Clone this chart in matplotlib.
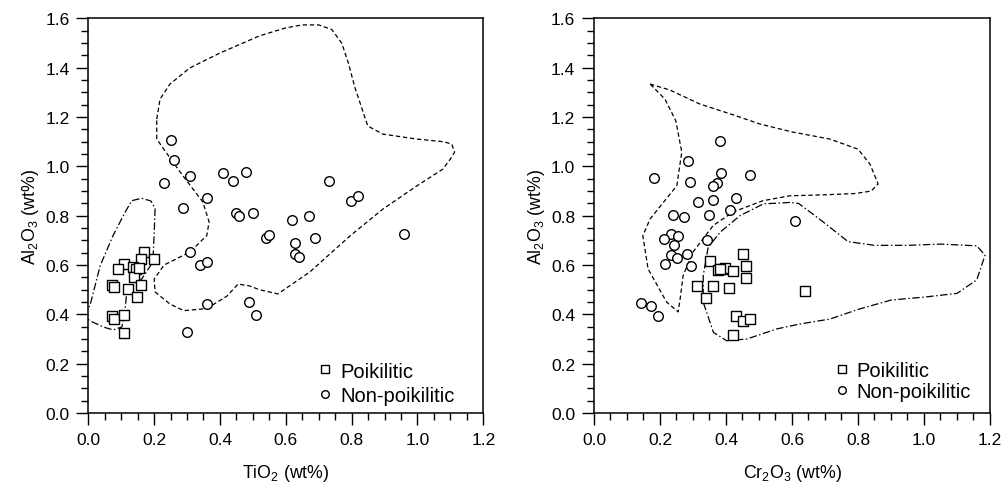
import numpy as np
import matplotlib.pyplot as plt
from matplotlib.lines import Line2D

plt.rcParams["font.family"] = ["Liberation Sans", "DejaVu Sans"]
plt.rcParams["mathtext.default"] = "regular"

# left panel: TiO2 vs Al2O3
ti_poik = [0.169, 0.200, 0.159, 0.109, 0.089, 0.135, 0.145, 0.139, 0.160, 0.071,
           0.079, 0.120, 0.149, 0.071, 0.079, 0.109, 0.109, 0.155]
al_poik_l = [0.652, 0.625, 0.625, 0.604, 0.584, 0.591, 0.585, 0.550, 0.519, 0.519,
             0.512, 0.503, 0.472, 0.392, 0.381, 0.399, 0.323, 0.590]
ti_nonp = [0.250, 0.260, 0.309, 0.230, 0.410, 0.440, 0.480, 0.360, 0.289, 0.449,
           0.459, 0.501, 0.730, 0.799, 0.818, 0.619, 0.670, 0.539, 0.549, 0.629,
           0.689, 0.629, 0.639, 0.959, 0.309, 0.339, 0.360, 0.360, 0.489, 0.509,
           0.299]
al_nonp_l = [1.108, 1.027, 0.962, 0.931, 0.972, 0.941, 0.979, 0.871, 0.830, 0.811,
             0.799, 0.810, 0.941, 0.860, 0.880, 0.781, 0.800, 0.710, 0.721, 0.689,
             0.710, 0.643, 0.633, 0.727, 0.652, 0.601, 0.612, 0.442, 0.450, 0.399,
             0.330]

# right panel: Cr2O3 vs Al2O3
cr_poik = [0.452, 0.352, 0.461, 0.375, 0.387, 0.397, 0.382, 0.422, 0.461, 0.311,
           0.362, 0.410, 0.339, 0.429, 0.452, 0.473, 0.422, 0.639]
al_poik_r = [0.645, 0.618, 0.597, 0.580, 0.584, 0.587, 0.585, 0.576, 0.546, 0.516,
             0.516, 0.506, 0.466, 0.395, 0.374, 0.381, 0.316, 0.496]
cr_nonp = [0.382, 0.284, 0.183, 0.291, 0.384, 0.372, 0.362, 0.473, 0.314, 0.362,
           0.430, 0.412, 0.349, 0.240, 0.274, 0.233, 0.256, 0.212, 0.243, 0.341,
           0.283, 0.232, 0.252, 0.215, 0.293, 0.141, 0.173, 0.193, 0.609]
al_nonp_r = [1.102, 1.022, 0.953, 0.935, 0.973, 0.933, 0.922, 0.965, 0.854, 0.865,
             0.873, 0.824, 0.803, 0.804, 0.795, 0.725, 0.717, 0.706, 0.683, 0.703,
             0.646, 0.641, 0.629, 0.603, 0.597, 0.445, 0.435, 0.395, 0.779]

# field outlines (closed)
left_nonp_x = [0.208, 0.218, 0.248, 0.309, 0.400, 0.521, 0.600, 0.650, 0.700, 0.740,
               0.770, 0.790, 0.810, 0.830, 0.849, 0.895, 0.998, 1.080, 1.104, 1.113,
               1.100, 1.077, 0.998, 0.895, 0.795, 0.673, 0.576, 0.520, 0.491, 0.455,
               0.421, 0.380, 0.348, 0.290, 0.248, 0.203, 0.200, 0.230, 0.309, 0.360,
               0.367, 0.348, 0.288, 0.240, 0.208, 0.208]
left_nonp_y = [1.192, 1.273, 1.334, 1.400, 1.460, 1.530, 1.562, 1.574, 1.574, 1.555,
               1.500, 1.420, 1.320, 1.240, 1.164, 1.131, 1.111, 1.100, 1.091, 1.058,
               1.030, 0.989, 0.921, 0.827, 0.718, 0.572, 0.483, 0.500, 0.515, 0.523,
               0.474, 0.440, 0.422, 0.415, 0.442, 0.491, 0.543, 0.600, 0.653, 0.720,
               0.775, 0.856, 0.961, 1.050, 1.111, 1.192]
left_poik_x = [-0.02, 0.005, 0.036, 0.075, 0.110, 0.132, 0.162, 0.190, 0.203, 0.200,
               0.196, 0.162, 0.117, 0.111, 0.102, 0.075, 0.045, 0.005, -0.02]
left_poik_y = [0.40, 0.435, 0.597, 0.719, 0.810, 0.861, 0.871, 0.860, 0.830, 0.720,
               0.612, 0.543, 0.491, 0.410, 0.349, 0.337, 0.349, 0.374, 0.40]
right_nonp_x = [0.170, 0.230, 0.321, 0.420, 0.503, 0.600, 0.715, 0.800, 0.836, 0.861,
                0.840, 0.790, 0.700, 0.594, 0.512, 0.421, 0.361, 0.300, 0.270, 0.261,
                0.255, 0.220, 0.164, 0.148, 0.170, 0.251, 0.266, 0.248, 0.215, 0.170]
right_nonp_y = [1.334, 1.310, 1.253, 1.210, 1.172, 1.140, 1.111, 1.070, 1.010, 0.929,
                0.900, 0.890, 0.885, 0.881, 0.861, 0.815, 0.760, 0.653, 0.557, 0.462,
                0.410, 0.450, 0.584, 0.719, 0.787, 0.922, 1.058, 1.185, 1.273, 1.334]
right_poik_x = [0.594, 0.513, 0.442, 0.382, 0.346, 0.331, 0.331, 0.362, 0.402, 0.463,
                0.554, 0.624, 0.715, 0.800, 0.900, 1.000, 1.100, 1.160, 1.185, 1.160,
                1.050, 0.950, 0.850, 0.770, 0.680, 0.620, 0.594]
right_poik_y = [0.854, 0.848, 0.800, 0.733, 0.672, 0.557, 0.449, 0.327, 0.293, 0.300,
                0.341, 0.361, 0.381, 0.420, 0.458, 0.470, 0.485, 0.540, 0.640, 0.678,
                0.685, 0.680, 0.680, 0.695, 0.790, 0.850, 0.854]

fig = plt.figure(figsize=(10.01, 4.85), dpi=100)
ax1 = fig.add_axes([0.0882, 0.1464, 0.3946, 0.8134])
ax2 = fig.add_axes([0.5934, 0.1464, 0.3956, 0.8134])

dash = (0, (3.5, 2.2))
dashdot = (0, (6, 2, 1.2, 2))
mk = dict(facecolor="white", edgecolor="black", linewidths=1.0, s=48, zorder=3)


def setup(ax, xlabel):
    ax.set_xlim(0, 1.2)
    ax.set_ylim(0, 1.6)
    ax.set_xticks(np.arange(0, 1.21, 0.2))
    ax.set_yticks(np.arange(0, 1.61, 0.2))
    ax.set_xticks(np.arange(0, 1.21, 0.05), minor=True)
    ax.set_yticks(np.arange(0, 1.61, 0.05), minor=True)
    ax.xaxis.set_major_formatter(plt.FormatStrFormatter("%.1f"))
    ax.yaxis.set_major_formatter(plt.FormatStrFormatter("%.1f"))
    ax.tick_params(which="major", direction="out", length=8.5, width=1.0,
                   labelsize=12.5, pad=5)
    ax.tick_params(which="minor", direction="out", length=5, width=1.0)
    for sp in ax.spines.values():
        sp.set_linewidth(1.1)
    ax.set_xlabel(xlabel, fontsize=12.8, labelpad=11)
    ax.set_ylabel("Al$_2$O$_3$ (wt%)", fontsize=12.8, labelpad=3)


ax1.plot(left_nonp_x, left_nonp_y, color="black", lw=0.9, ls=dash)
ax1.plot(left_poik_x, left_poik_y, color="black", lw=0.9, ls=dashdot)
ax1.scatter(ti_poik, al_poik_l, marker="s", **mk)
ax1.scatter(ti_nonp, al_nonp_l, marker="o", **mk)
setup(ax1, "TiO$_2$ (wt%)")

ax2.plot(right_nonp_x, right_nonp_y, color="black", lw=0.9, ls=dash)
ax2.plot(right_poik_x, right_poik_y, color="black", lw=0.9, ls=dashdot)
ax2.scatter(cr_poik, al_poik_r, marker="s", **mk)
ax2.scatter(cr_nonp, al_nonp_r, marker="o", **mk)
setup(ax2, "Cr$_2$O$_3$ (wt%)")

handles = [Line2D([], [], ls="none", marker="s", ms=5.5, mfc="white", mec="black", mew=1.0),
           Line2D([], [], ls="none", marker="o", ms=5.5, mfc="white", mec="black", mew=1.0)]
ax1.legend(handles, ["Poikilitic", "Non-poikilitic"], loc="lower right",
           bbox_to_anchor=(0.947, 0.0), frameon=False, fontsize=14.5,
           handlelength=0.6, handletextpad=0.45, labelspacing=0.27, borderaxespad=0)
ax2.legend(handles, ["Poikilitic", "Non-poikilitic"], loc="lower right",
           bbox_to_anchor=(0.973, 0.009), frameon=False, fontsize=14.5,
           handlelength=0.6, handletextpad=0.45, labelspacing=0.12, borderaxespad=0)

fig.savefig("out.png", dpi=100)
